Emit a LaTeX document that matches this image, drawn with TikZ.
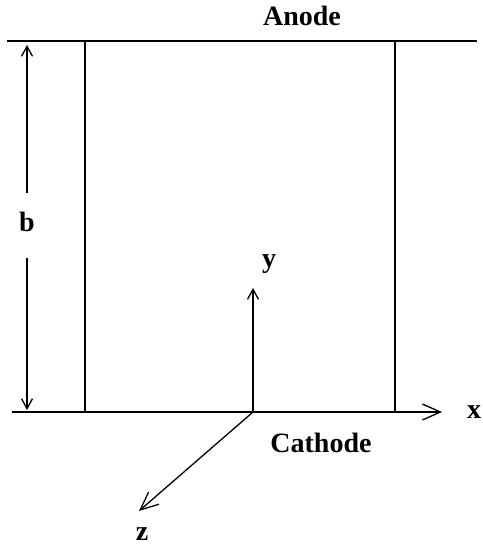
\documentclass[tikz,border=0pt]{standalone}
\usepackage{fontspec}
\setmainfont{Liberation Serif}
\usetikzlibrary{arrows.meta}
\tikzset{
  wire/.style={line width=1.3pt},
  small/.style={wire, -{Straight Barb[length=10pt,width=11pt,line width=1.3pt]}},
  big/.style={wire, -{Straight Barb[length=18pt,width=16pt,line width=1.3pt]}},
  lbl/.style={font=\fontsize{28}{28}\selectfont\bfseries, inner sep=0pt}
}
\begin{document}
\begin{tikzpicture}[x=1pt, y=-1pt]
    \useasboundingbox (0,0) rectangle (482,548);
    % plates
    \coordinate (aL) at (7,41);
    \coordinate (aR) at (477,41);
    \coordinate (cL) at (12,412);
    \coordinate (cR) at (442,412);
    \coordinate (o) at (253,412);
    \draw[wire] (aL) -- (aR);
    \draw[big] (cL) -- (cR);
    \draw[wire] (85,41) -- (85,412);
    \draw[wire] (395,41) -- (395,412);
    % gap height
    \node[lbl] (b) at (27,222) {b};
    \coordinate (bT) at (27,45);
    \coordinate (bB) at (27,410);
    \draw[small] (27,193) -- (bT);
    \draw[small] (27,258) -- (bB);
    % axes
    \coordinate (yT) at (253,288);
    \coordinate (zE) at (139,511);
    \draw[small] (o) -- (yT);
    \draw[big] (o) -- (zE);
    \node[lbl] (ylab) at (269,264) {y};
    \node[lbl] (xlab) at (474,412) {x};
    \node[lbl] (zlab) at (142,534) {z};
    \node[lbl] (anode) at (302,16) {Anode};
    \node[lbl] (cathode) at (321,443) {Cathode};
\end{tikzpicture}
\end{document}
